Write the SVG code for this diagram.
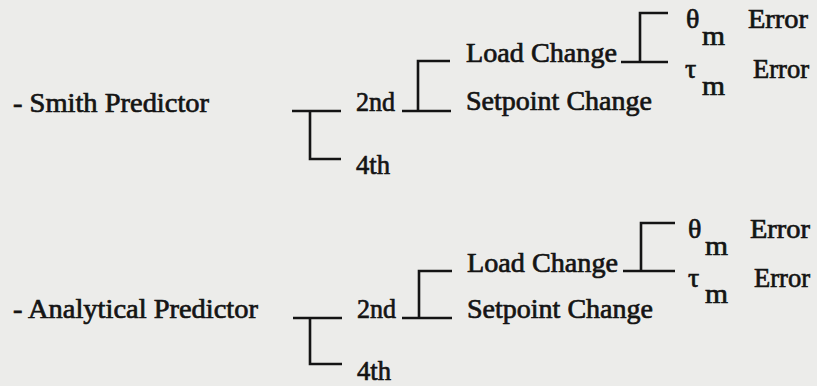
<svg xmlns="http://www.w3.org/2000/svg" width="817" height="386" viewBox="0 0 817 386">
<style>
.t{font-family:"Liberation Serif","Times New Roman",serif;font-size:28px;fill:#141414;stroke:#141414;stroke-width:0.7}
.g{font-size:28px}
.c{fill:none;stroke:#141414;stroke-width:2.6;stroke-linecap:butt;stroke-linejoin:miter}
</style>
<rect width="817" height="386" fill="#ececea"/>
<g id="connectors">
<path class="c" d="M292 111H341M310 111V159H341"/>
<path class="c" d="M402 111H451M418 111V61H450"/>
<path class="c" d="M621 62H668M640 62V13H668"/>
<path class="c" d="M293 318H342M310 318V364H342"/>
<path class="c" d="M402 318H452M419 318V271H452"/>
<path class="c" d="M623 271H675M641 271V223H675"/>
</g>
<g id="smith"><text class="t" x="13" y="112" textLength="196" lengthAdjust="spacingAndGlyphs">- Smith Predictor</text></g>
<g id="s2nd"><text class="t" x="356" y="111" textLength="39" lengthAdjust="spacingAndGlyphs">2nd</text></g>
<g id="s4th"><text class="t" x="356" y="174" textLength="34" lengthAdjust="spacingAndGlyphs">4th</text></g>
<g id="sload"><text class="t" x="466" y="62" textLength="151" lengthAdjust="spacingAndGlyphs">Load Change</text></g>
<g id="sset"><text class="t" x="466" y="110" textLength="186" lengthAdjust="spacingAndGlyphs">Setpoint Change</text></g>
<g id="stheta"><text class="t g" x="686" y="28">θ</text><text class="t" x="702" y="45" textLength="23" lengthAdjust="spacingAndGlyphs">m</text><text class="t" x="748" y="28" textLength="60" lengthAdjust="spacingAndGlyphs">Error</text></g>
<g id="stau"><text class="t g" x="685" y="78">τ</text><text class="t" x="702" y="95" textLength="23" lengthAdjust="spacingAndGlyphs">m</text><text class="t" x="753" y="78" textLength="56" lengthAdjust="spacingAndGlyphs">Error</text></g>
<g id="analytical"><text class="t" x="13" y="318" textLength="245" lengthAdjust="spacingAndGlyphs">- Analytical Predictor</text></g>
<g id="a2nd"><text class="t" x="357" y="318" textLength="39" lengthAdjust="spacingAndGlyphs">2nd</text></g>
<g id="a4th"><text class="t" x="357" y="380" textLength="34" lengthAdjust="spacingAndGlyphs">4th</text></g>
<g id="aload"><text class="t" x="467" y="272" textLength="151" lengthAdjust="spacingAndGlyphs">Load Change</text></g>
<g id="aset"><text class="t" x="467" y="318" textLength="186" lengthAdjust="spacingAndGlyphs">Setpoint Change</text></g>
<g id="atheta"><text class="t g" x="688" y="238">θ</text><text class="t" x="705" y="255" textLength="23" lengthAdjust="spacingAndGlyphs">m</text><text class="t" x="750" y="238" textLength="60" lengthAdjust="spacingAndGlyphs">Error</text></g>
<g id="atau"><text class="t g" x="688" y="287">τ</text><text class="t" x="705" y="303" textLength="23" lengthAdjust="spacingAndGlyphs">m</text><text class="t" x="754" y="287" textLength="56" lengthAdjust="spacingAndGlyphs">Error</text></g>
</svg>
